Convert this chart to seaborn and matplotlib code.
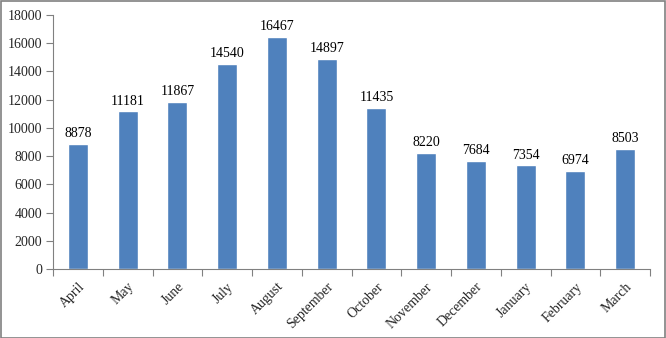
import matplotlib
matplotlib.use("Agg")
import matplotlib.pyplot as plt
import seaborn as sns
import pandas as pd
from matplotlib.patches import Rectangle

months = ["April", "May", "June", "July", "August", "September", "October",
          "November", "December", "January", "February", "March"]
values = [8878, 11181, 11867, 14540, 16467, 14897, 11435, 8220, 7684, 7354, 6974, 8503]
yticks = [0, 2000, 4000, 6000, 8000, 10000, 12000, 14000, 16000, 18000]

sns.set_theme(style="white")
plt.rcParams['font.family'] = ['Liberation Serif', 'DejaVu Serif']

df = pd.DataFrame({"month": months, "value": values})

fig = plt.figure(figsize=(6.66, 3.38), dpi=100)
ax = fig.add_axes([53/666, 1-269/338, (650-53)/666, (269-15)/338])

sns.barplot(data=df, x="month", y="value", color="#4F81BD", width=0.4,
            saturation=1, ax=ax)

for i, v in enumerate(values):
    ax.text(i, v + 250, str(v), ha="center", va="bottom", fontsize=10, color="black")

ax.set_xlim(-0.5, len(months) - 0.5)
ax.set_ylim(0, 18000)
ax.set_yticks(yticks)
ax.set_yticklabels([str(t) for t in yticks], fontsize=10)
ax.set_xticks(range(len(months)))
ax.set_xticklabels(months, rotation=45, ha="right", rotation_mode="anchor", fontsize=10)
ax.set_xticks([i - 0.5 for i in range(len(months) + 1)], minor=True)
ax.tick_params(axis="x", which="major", length=0, pad=8)
ax.tick_params(axis="x", which="minor", length=5, width=0.8, color="#808080", direction="out", bottom=True)
ax.tick_params(axis="y", length=5, width=0.8, color="#808080", direction="out", left=True, pad=3)
ax.set_xlabel("")
ax.set_ylabel("")
for s in ["top", "right"]:
    ax.spines[s].set_visible(False)
for s in ["left", "bottom"]:
    ax.spines[s].set_color("#808080")
    ax.spines[s].set_linewidth(0.8)

fig.patches.append(Rectangle((0.5/666, 0.5/338), 1 - 1.5/666, 1 - 1.5/338,
                             transform=fig.transFigure, fill=False,
                             edgecolor="#808080", linewidth=1.2))

fig.savefig("out.png", dpi=100)
